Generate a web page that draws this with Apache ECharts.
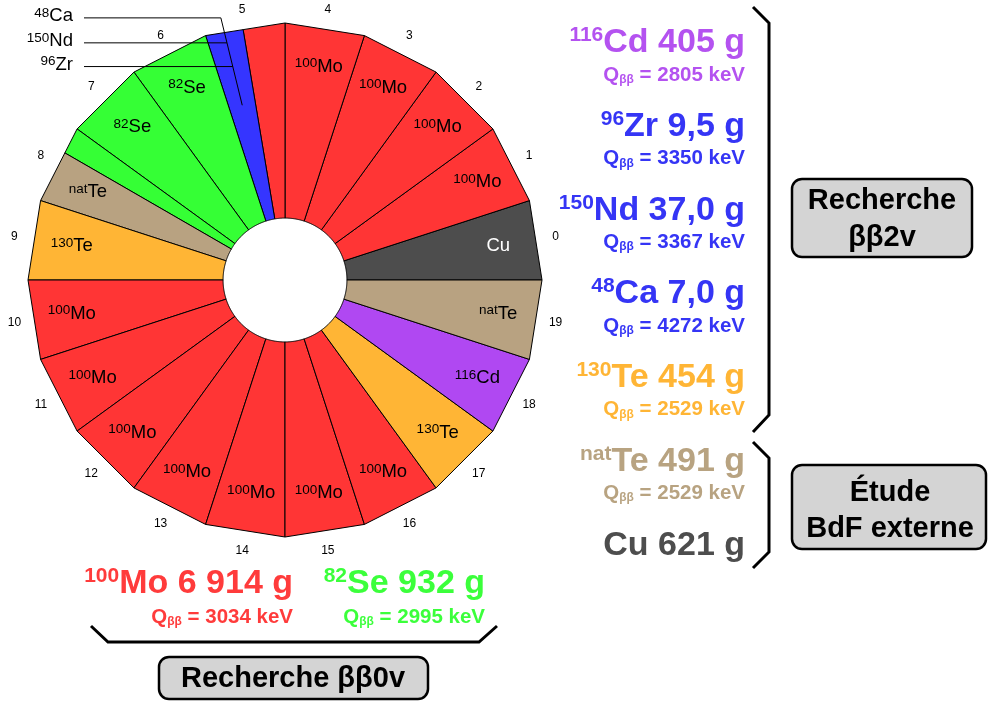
<!DOCTYPE html>
<html><head><meta charset="utf-8">
<script src="https://cdn.jsdelivr.net/npm/echarts@6/dist/echarts.min.js"></script>
<style>html,body{margin:0;padding:0;background:#fff}#c{width:989px;height:702px}</style>
</head><body><div id="c"></div>
<script>
// ---------- data ----------
// foil sectors (numbered counter-clockwise from the right)
const sectorNumbers = [0,1,2,3,4,5,6,7,8,9,10,11,12,13,14,15,16,17,18,19];
// regions of the foil, angles in degrees counter-clockwise from the right
const regionFrom    = [0, 18, 36, 54, 72, 90, 99.5, 108, 126, 144, 150, 162, 180, 198, 216, 234, 252, 270, 288, 306, 324, 342];
const regionTo      = [18, 36, 54, 72, 90, 99.5, 108, 126, 144, 150, 162, 180, 198, 216, 234, 252, 270, 288, 306, 324, 342, 360];
const regionIsotope = ['Cu','100Mo','100Mo','100Mo','100Mo','100Mo','CaNdZr','82Se','82Se','82Se','natTe','130Te',
                       '100Mo','100Mo','100Mo','100Mo','100Mo','100Mo','100Mo','130Te','116Cd','natTe'];
const regionLabelled = [1,1,1,1,1,0,0,1,1,0,1,1,1,1,1,1,1,1,1,1,1,1];

const isotopeKeys   = ['Cu','100Mo','CaNdZr','82Se','natTe','130Te','116Cd'];
const isotopeColors = ['#4d4d4d','#ff3535','#3535ff','#35ff35','#b8a281','#ffb535','#b048f2'];
const isotopeSup    = ['','100','','82','nat','130','116'];
const isotopeEl     = ['Cu','Mo','','Se','Te','Te','Cd'];

// small isotopes of sector 5 (labels with leader lines)
const leaderSup   = ['48','150','96'];
const leaderEl    = ['Ca','Nd','Zr'];
const leaderEndR  = [0.70, 0.95, 0.855];
const leaderElbowR= [1.05, 0.95, 0.855];

// side texts (ββ2ν and background)
const sideSup   = ['116','96','150','48','130','nat',''];
const sideEl    = ['Cd','Zr','Nd','Ca','Te','Te','Cu'];
const sideMass  = ['405 g','9,5 g','37,0 g','7,0 g','454 g','491 g','621 g'];
const sideQ     = ['2805','3350','3367','4272','2529','2529',''];
const sideColor = ['#b452f0','#3535f5','#3535f5','#3535f5','#ffb535','#b8a381','#4d4d4d'];
// ββ0ν texts
const botSup   = ['100','82'];
const botEl    = ['Mo','Se'];
const botMass  = ['6 914 g','932 g'];
const botQ     = ['3034','2995'];
const botColor = ['#ff3b3b','#3bff3b'];

// ---------- drawing ----------
const FONT = '"Liberation Sans", Arial, Helvetica, sans-serif';
const D = Math.PI / 180;
const R_IN = 0.241;      // hole, as a fraction of the outer radius
const R_LABEL = 0.84;
const R_NUM = 1.066;

function colorOf(iso){ return isotopeColors[isotopeKeys.indexOf(iso)]; }

function supRich(size, supSize, fill){
  return {
    s: {fontSize: supSize, fontFamily: FONT, fill: fill, lineHeight: Math.round(supSize*0.7), verticalAlign: 'top'},
    m: {fontSize: size, fontFamily: FONT, fill: fill, lineHeight: Math.round(size*1.1)}
  };
}

function renderRegion(params, api){
  const i = params.dataIndex;
  const a0 = regionFrom[i], a1 = regionTo[i];
  const sec = Math.floor((a0 + a1) / 2 / 18);
  const mid = sec * 18 + 9;
  const outer = a => Math.cos(9 * D) / Math.cos((a - mid) * D);
  const pts = [api.coord([outer(a0), a0]), api.coord([outer(a1), a1])];
  const n = 30;
  for (let k = 0; k <= n; k++){
    const a = a1 - (a1 - a0) * k / n;
    pts.push(api.coord([R_IN, a]));
  }
  const iso = regionIsotope[i];
  const children = [{
    type: 'polygon',
    shape: {points: pts},
    style: {fill: colorOf(iso), stroke: '#000', lineWidth: 1}
  }];
  if (regionLabelled[i]){
    const k = isotopeKeys.indexOf(iso);
    const p = api.coord([R_LABEL, (a0 + a1) / 2]);
    const fill = iso === 'Cu' ? '#ffffff' : '#000000';
    const txt = (isotopeSup[k] ? '{s|' + isotopeSup[k] + '}' : '') + '{m|' + isotopeEl[k] + '}';
    children.push({
      type: 'text', x: p[0], y: p[1],
      style: {text: txt, rich: supRich(18.5, 13.5, fill), align: 'center', verticalAlign: 'middle', fill: fill}
    });
  }
  return {type: 'group', children: children};
}

function renderNumber(params, api){
  const n = sectorNumbers[params.dataIndex];
  const p = api.coord([R_NUM, n * 18 + 9]);
  return {type: 'text', x: p[0], y: p[1],
    style: {text: String(n), fontSize: 12, fontFamily: FONT, fill: '#000', align: 'center', verticalAlign: 'middle'}};
}

const blueIdx = regionIsotope.indexOf('CaNdZr');
const blueMid = (regionFrom[blueIdx] + regionTo[blueIdx]) / 2;

function renderLeader(params, api){
  const i = params.dataIndex;
  const pEnd = api.coord([leaderEndR[i], blueMid]);
  const pElbow = api.coord([leaderElbowR[i], blueMid]);
  const xStart = 84;
  return {type: 'group', children: [
    {type: 'polyline', shape: {points: [[xStart, pElbow[1]], pElbow, pEnd]},
     style: {stroke: '#000', lineWidth: 1, fill: null}},
    {type: 'text', x: 73, y: pElbow[1] - 2,
     style: {text: '{s|' + leaderSup[i] + '}{m|' + leaderEl[i] + '}', rich: supRich(18.5, 13.5, '#000'),
             align: 'right', verticalAlign: 'middle', fill: '#000'}}
  ]};
}

// graphic helpers
function isoText(x, y, sup, el, mass, color, size, supSize){
  const txt = (sup ? '{s|' + sup + '}' : '') + '{m|' + el + ' ' + mass + '}';
  return {type: 'text', x: x, y: y, z: 10,
    style: {text: txt, align: 'right', verticalAlign: 'middle', textAlign: 'right', textVerticalAlign: 'middle', fill: color,
      rich: {
        s: {fontSize: supSize, fontWeight: 'bold', fontFamily: FONT, fill: color, lineHeight: Math.round(supSize*0.75), verticalAlign: 'top'},
        m: {fontSize: size, fontWeight: 'bold', fontFamily: FONT, fill: color, lineHeight: Math.round(size*1.05)}
      }}};
}
function qText(x, y, q, color){
  return {type: 'text', x: x, y: y, z: 10,
    style: {text: '{q|Q}{b|ββ}{q| = ' + q + ' keV}', align: 'right', verticalAlign: 'middle', textAlign: 'right', textVerticalAlign: 'middle', fill: color,
      rich: {
        q: {fontSize: 20.5, fontWeight: 'bold', fontFamily: FONT, fill: color, lineHeight: 21},
        b: {fontSize: 12, fontWeight: 'bold', fontFamily: FONT, fill: color, lineHeight: 9, verticalAlign: 'bottom'}
      }}};
}
function boxText(x, y, w, h, lines, cx, cy, lh){
  const els = [{type: 'rect', shape: {x: x, y: y, width: w, height: h, r: 10},
    style: {fill: '#d4d4d4', stroke: '#000', lineWidth: 2.5}, z: 5}];
  lines.forEach((t, k) => els.push({type: 'text', x: cx, y: cy + k * lh, z: 6,
    style: {text: t, fontSize: 29, fontWeight: 'bold', fontFamily: FONT, fill: '#000',
      align: 'center', verticalAlign: 'middle', textAlign: 'center', textVerticalAlign: 'middle'}}));
  return els;
}

const graphics = [];
sideEl.forEach((el, k) => {
  const y = 43 + k * 83.7;
  graphics.push(isoText(745, y, sideSup[k], el, sideMass[k], sideColor[k], 34, 21));
  if (sideQ[k]) graphics.push(qText(745, y + 32, sideQ[k], sideColor[k]));
});
const botX = [293, 485];
botEl.forEach((el, k) => {
  graphics.push(isoText(botX[k], 584, botSup[k], el, botMass[k], botColor[k], 34, 21));
  graphics.push(qText(botX[k], 617, botQ[k], botColor[k]));
});
// brackets
const br = (pts) => ({type: 'polyline', shape: {points: pts}, style: {stroke: '#000', lineWidth: 3, fill: null}, z: 4});
graphics.push(br([[753,7],[769,23],[769,415],[753,432]]));
graphics.push(br([[753,442],[769,458],[769,552],[753,568]]));
graphics.push(br([[91,626],[108,642],[479,642],[497,626]]));
graphics.push(...boxText(792, 179, 180, 78, ['Recherche', 'ββ2v'], 882, 201, 37));
graphics.push(...boxText(792, 465, 194, 84, ['Étude', 'BdF externe'], 890, 493, 36));
graphics.push(...boxText(159, 657, 269, 42, ['Recherche ββ0v'], 293, 679, 0));

const chart = echarts.init(document.getElementById('c'), null, {renderer: 'canvas'});
chart.setOption({
  animation: false,
  backgroundColor: '#ffffff',
  polar: {center: [285, 280], radius: 257},
  angleAxis: {type: 'value', min: 0, max: 360, startAngle: 0, clockwise: false, show: false},
  radiusAxis: {type: 'value', min: 0, max: 1, show: false},
  series: [
    {type: 'custom', coordinateSystem: 'polar', renderItem: renderRegion,
     data: regionFrom.map((f, i) => [1, (f + regionTo[i]) / 2]), clip: false, silent: true},
    {type: 'custom', coordinateSystem: 'polar', renderItem: renderNumber,
     data: sectorNumbers.map(n => [R_NUM, n * 18 + 9]), clip: false, silent: true},
    {type: 'custom', coordinateSystem: 'polar', renderItem: renderLeader, z: 3,
     data: leaderEl.map((e, i) => [leaderEndR[i], blueMid]), clip: false, silent: true}
  ],
  graphic: graphics
});
</script></body></html>
